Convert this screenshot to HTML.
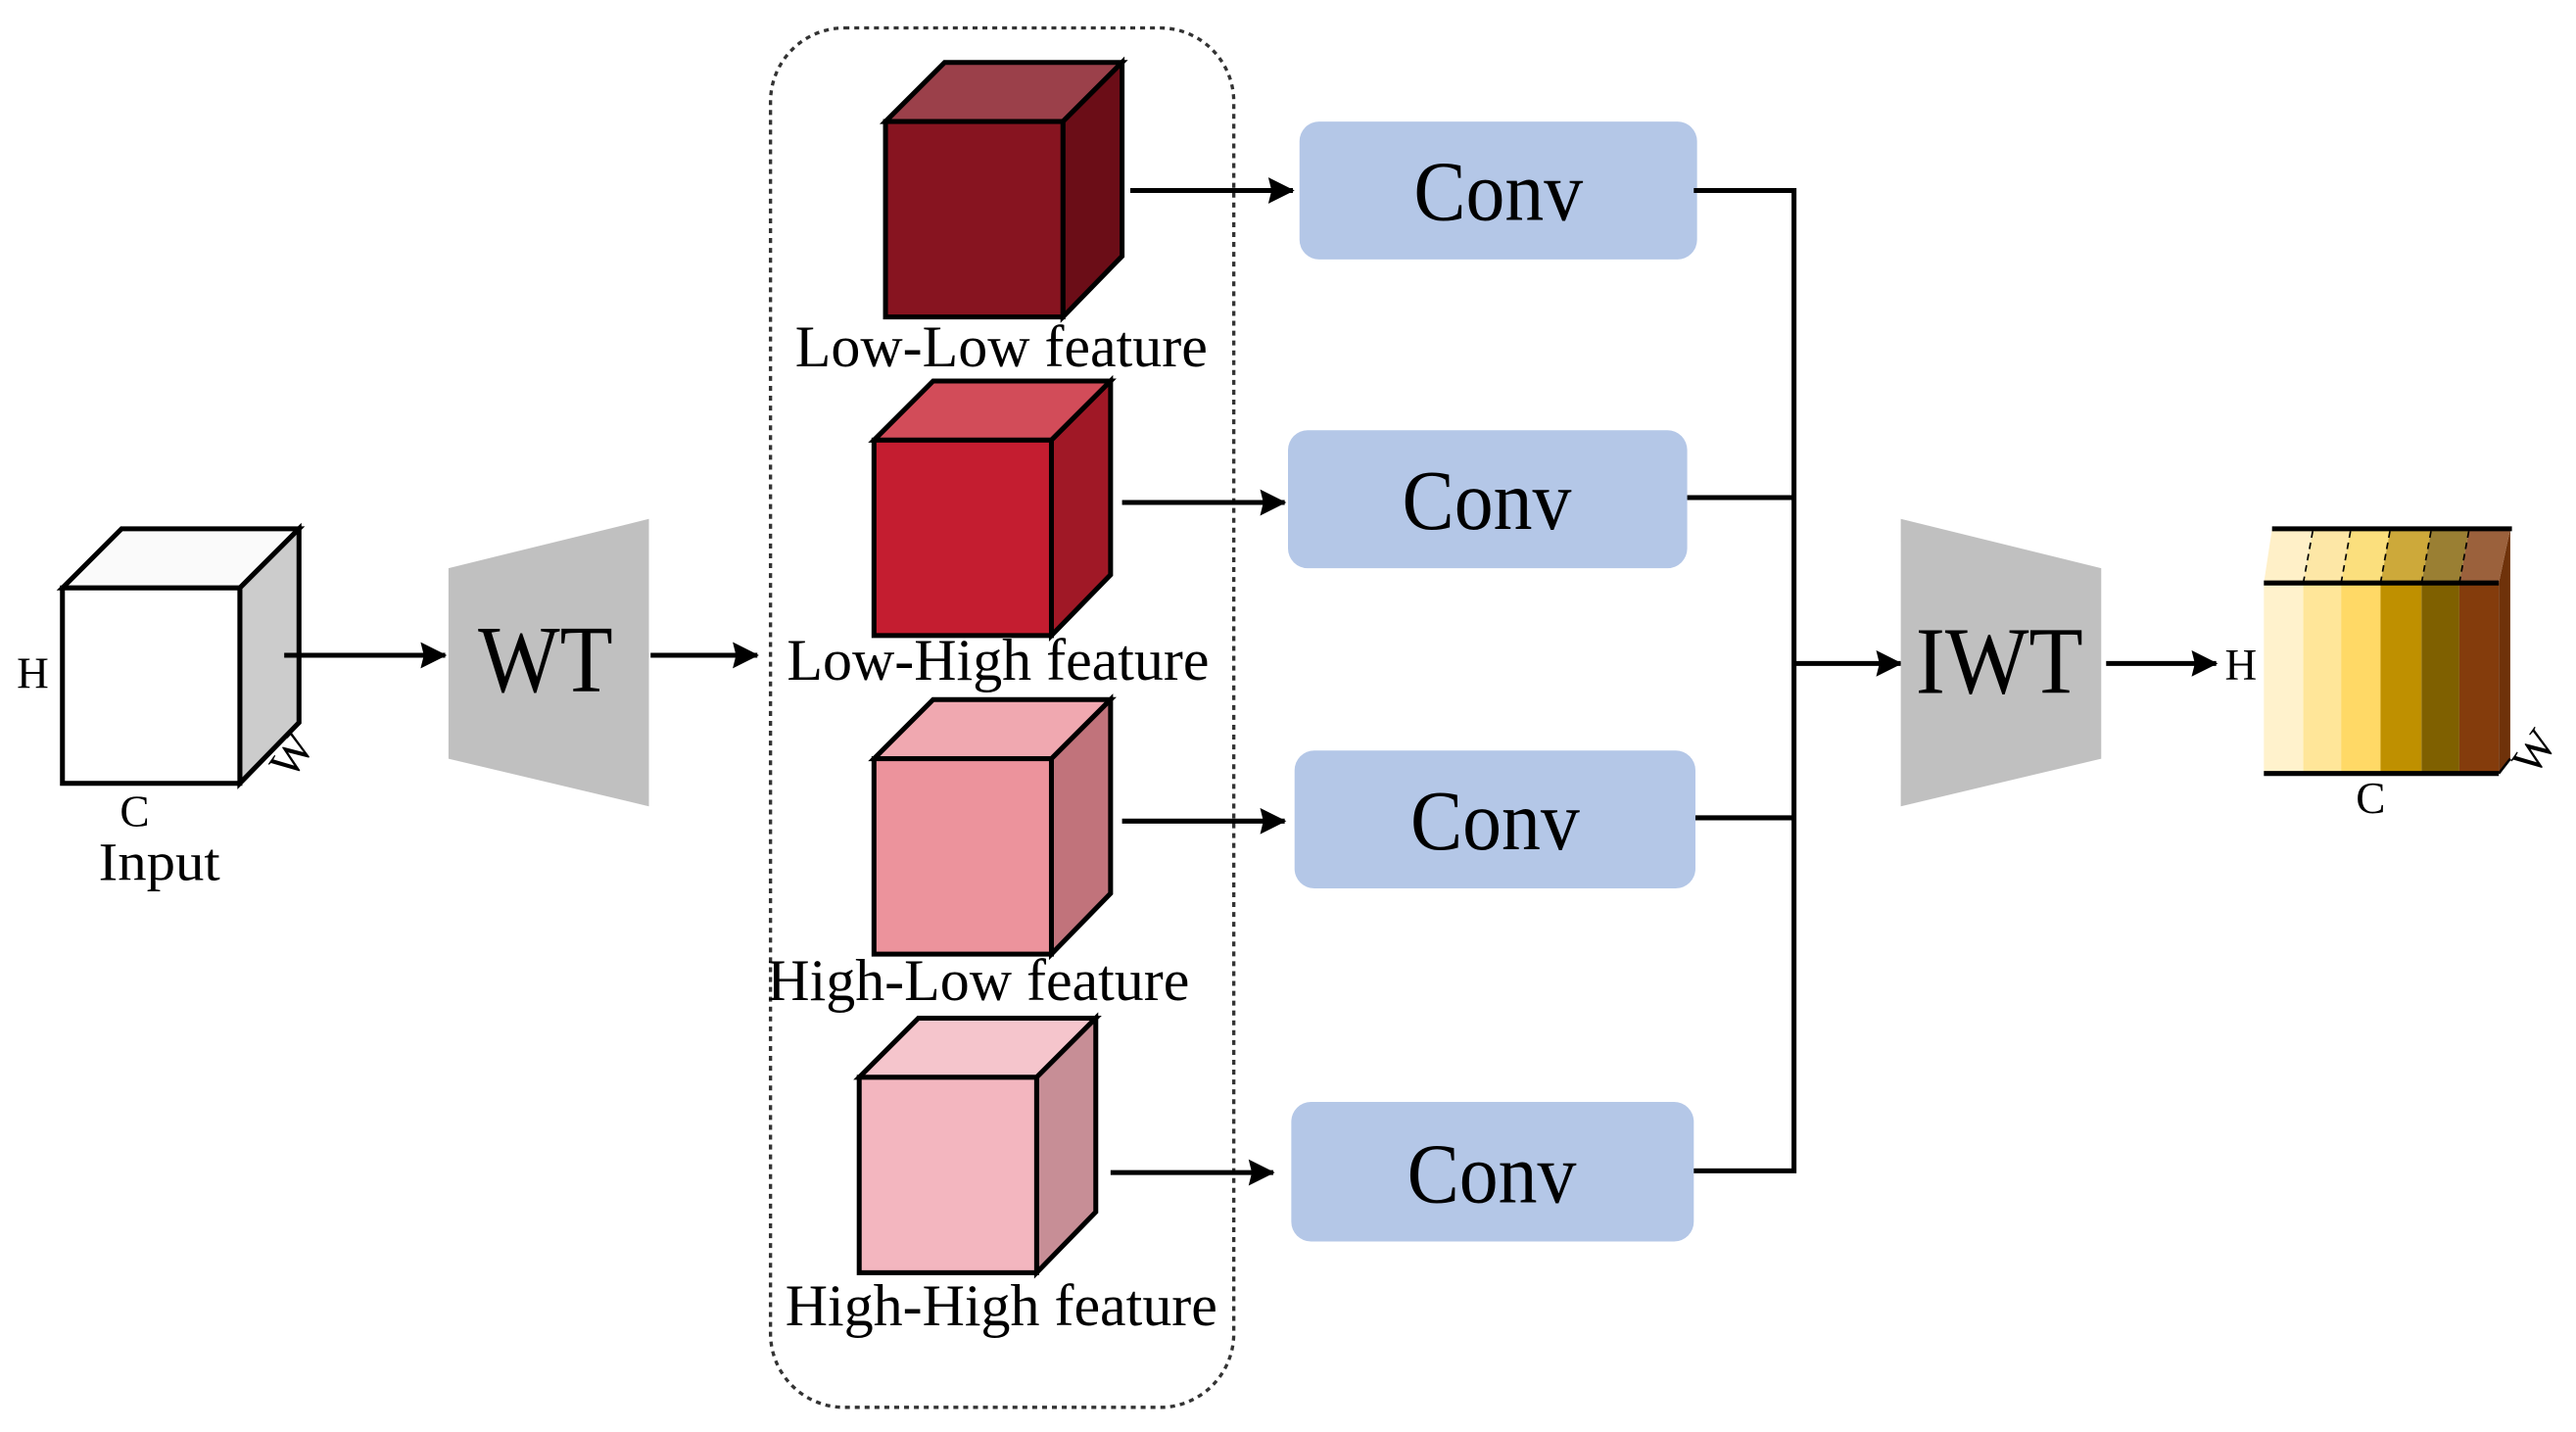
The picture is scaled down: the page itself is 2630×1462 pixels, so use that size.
<!DOCTYPE html>
<html><head><meta charset="utf-8"><style>
html,body{margin:0;padding:0;background:#fff;}
svg{display:block;}
text{font-family:"Liberation Serif",serif;fill:#000;}
</style></head><body>
<svg width="2630" height="1462" viewBox="0 0 1568 872" preserveAspectRatio="none" xmlns="http://www.w3.org/2000/svg">
<defs>
<marker id="ah" markerWidth="16" markerHeight="16" refX="15" refY="8" orient="auto" markerUnits="userSpaceOnUse" viewBox="0 0 16 16">
<path d="M0,0 L16,8 L0,16 L2,8 Z" fill="#000"/>
</marker>
</defs>
<g stroke="#000" stroke-width="3" fill="none">
<polygon points="38,358 74,322 182,322 146,358" fill="#fafafa"/>
<polygon points="146,358 182,322 182,440 146,477" fill="#cccccc"/>
<rect x="38" y="358" width="108" height="119" fill="#fff"/>
</g>
<text x="20" y="419" font-size="27" text-anchor="middle">H</text>
<text x="0" y="0" font-size="27" text-anchor="middle" transform="translate(185,465) rotate(-55)">W</text>
<text x="82" y="503" font-size="27" text-anchor="middle">C</text>
<text x="97" y="536" font-size="33" text-anchor="middle" textLength="74" lengthAdjust="spacingAndGlyphs">Input</text>

<g stroke="#000" stroke-width="3" fill="none">
<line x1="173" y1="399" x2="271" y2="399" marker-end="url(#ah)"/>
<line x1="396" y1="399" x2="461" y2="399" marker-end="url(#ah)"/>
</g>
<polygon points="273,346 395,316 395,491 273,462" fill="#c0c0c0"/>
<text x="332" y="421" font-size="58" text-anchor="middle" textLength="82" lengthAdjust="spacingAndGlyphs">WT</text>

<rect x="469" y="17" width="282" height="840" rx="45" ry="45" fill="none" stroke="#333" stroke-width="2" stroke-dasharray="3,3"/>

<g stroke="#000" stroke-width="3">
<polygon points="539,74 575,38 683,38 647,74" fill="#9b404a"/>
<polygon points="647,74 683,38 683,156 647,193" fill="#6b0d17"/>
<rect x="539" y="74" width="108" height="119" fill="#871420"/>

<polygon points="532,268 568,232 676,232 640,268" fill="#d24c59"/>
<polygon points="640,268 676,232 676,350 640,387" fill="#a01826"/>
<rect x="532" y="268" width="108" height="119" fill="#c41d30"/>

<polygon points="532,462 568,426 676,426 640,462" fill="#f0a8b0"/>
<polygon points="640,462 676,426 676,544 640,581" fill="#c1737b"/>
<rect x="532" y="462" width="108" height="119" fill="#ec939c"/>

<polygon points="523,656 559,620 667,620 631,656" fill="#f5c5cc"/>
<polygon points="631,656 667,620 667,738 631,775" fill="#c78e96"/>
<rect x="523" y="656" width="108" height="119" fill="#f3b6bf"/>
</g>
<text x="484" y="223" font-size="36" textLength="251" lengthAdjust="spacingAndGlyphs">Low-Low feature</text>
<text x="479" y="414" font-size="36" textLength="257" lengthAdjust="spacingAndGlyphs">Low-High feature</text>
<text x="467" y="609" font-size="36" textLength="257" lengthAdjust="spacingAndGlyphs">High-Low feature</text>
<text x="478" y="807" font-size="36" textLength="263" lengthAdjust="spacingAndGlyphs">High-High feature</text>

<g stroke="#000" stroke-width="3" fill="none">
<line x1="688" y1="116" x2="787" y2="116" marker-end="url(#ah)"/>
<line x1="683" y1="306" x2="782" y2="306" marker-end="url(#ah)"/>
<line x1="683" y1="500" x2="782" y2="500" marker-end="url(#ah)"/>
<line x1="676" y1="714" x2="775" y2="714" marker-end="url(#ah)"/>
</g>

<g fill="#b4c7e7">
<rect x="791" y="74" width="242" height="84" rx="12"/>
<rect x="784" y="262" width="243" height="84" rx="12"/>
<rect x="788" y="457" width="244" height="84" rx="12"/>
<rect x="786" y="671" width="245" height="85" rx="12"/>
</g>
<g font-size="52" text-anchor="middle">
<text x="912" y="134" textLength="103" lengthAdjust="spacingAndGlyphs">Conv</text>
<text x="905" y="322" textLength="103" lengthAdjust="spacingAndGlyphs">Conv</text>
<text x="910" y="517" textLength="103" lengthAdjust="spacingAndGlyphs">Conv</text>
<text x="908" y="732" textLength="103" lengthAdjust="spacingAndGlyphs">Conv</text>
</g>

<g stroke="#000" stroke-width="3" fill="none">
<polyline points="1031,116 1092,116 1092,713 1031,713"/>
<line x1="1027" y1="303" x2="1092" y2="303"/>
<line x1="1032" y1="498" x2="1092" y2="498"/>
<line x1="1092" y1="404" x2="1157" y2="404" marker-end="url(#ah)"/>
<line x1="1282" y1="404" x2="1349" y2="404" marker-end="url(#ah)"/>
</g>
<polygon points="1157,316 1279,346 1279,462 1157,491" fill="#c0c0c0"/>
<text x="1217" y="422" font-size="58" text-anchor="middle" textLength="102" lengthAdjust="spacingAndGlyphs">IWT</text>
<text x="1364" y="414" font-size="27" text-anchor="middle">H</text>

<g>
<polygon points="1521,355 1528,322 1528,462 1521,471" fill="#6f320a"/>
<polygon points="1378,355 1383,322 1408,322 1402,355" fill="#fff0c8"/>
<polygon points="1402,355 1408,322 1431,322 1425,355" fill="#fde7a6"/>
<polygon points="1425,355 1431,322 1455,322 1449,355" fill="#fbdf7d"/>
<polygon points="1449,355 1455,322 1480,322 1474,355" fill="#cda93a"/>
<polygon points="1474,355 1480,322 1503,322 1497,355" fill="#9a7f33"/>
<polygon points="1497,355 1503,322 1528,322 1521,355" fill="#9b613c"/>
<rect x="1378" y="355" width="24" height="116" fill="#fff2cc"/>
<rect x="1402" y="355" width="23" height="116" fill="#ffe699"/>
<rect x="1425" y="355" width="24" height="116" fill="#ffd966"/>
<rect x="1449" y="355" width="25" height="116" fill="#bf9000"/>
<rect x="1474" y="355" width="23" height="116" fill="#7f6000"/>
<rect x="1497" y="355" width="24" height="116" fill="#843c0c"/>
<g stroke="#000" stroke-width="1" stroke-dasharray="4,3">
<line x1="1402" y1="355" x2="1408" y2="322"/>
<line x1="1425" y1="355" x2="1431" y2="322"/>
<line x1="1449" y1="355" x2="1455" y2="322"/>
<line x1="1474" y1="355" x2="1480" y2="322"/>
<line x1="1497" y1="355" x2="1503" y2="322"/>
</g>
<g stroke="#000" stroke-width="3">
<line x1="1383" y1="322" x2="1529" y2="322"/>
<line x1="1378" y1="355" x2="1521" y2="355"/>
<line x1="1378" y1="471" x2="1521" y2="471"/>
</g>
<line x1="1521" y1="471" x2="1528" y2="462" stroke="#000" stroke-width="1.5"/>
</g>
<text x="1443" y="495" font-size="27" text-anchor="middle">C</text>
<text x="0" y="0" font-size="27" text-anchor="middle" transform="translate(1550,463) rotate(-55)">W</text>
</svg>
</body></html>
